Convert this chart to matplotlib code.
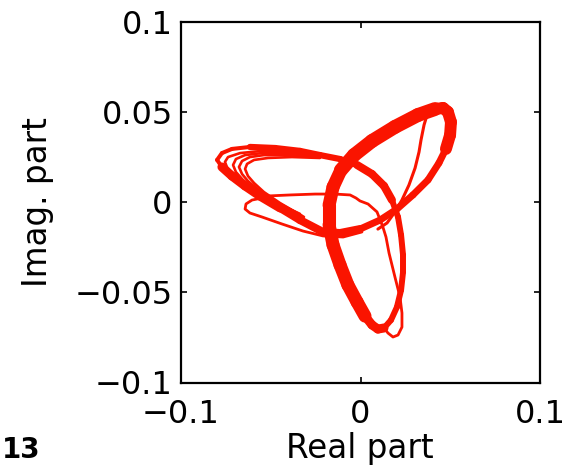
import numpy as np
import matplotlib.pyplot as plt
from matplotlib.collections import LineCollection

RED = "#fa1400"

# ===============================
# Trajectory in the complex plane
# ===============================
# main trefoil cycle (closed)
cycle_re = [-0.0799, -0.0772, -0.0716, -0.0616, -0.0476, -0.0337, -0.0226, -0.0114,
            -0.0019, 0.0064, 0.0131, 0.0175, 0.0209, 0.0226, 0.0237, 0.0237,
            0.0226, 0.0203, 0.0170, 0.0131, 0.0097, 0.0064, 0.0025, -0.0019,
            -0.0070, -0.0114, -0.0153, -0.0175, -0.0175, -0.0153, -0.0109, -0.0036,
            0.0064, 0.0192, 0.0320, 0.0415, 0.0460, 0.0487, 0.0504, 0.0499,
            0.0476, 0.0437, 0.0376, 0.0292, 0.0203, 0.0109, -0.0003, -0.0114,
            -0.0209, -0.0337, -0.0448, -0.0560, -0.0643, -0.0716, -0.0772, -0.0799]
cycle_im = [0.0233, 0.0271, 0.0294, 0.0305, 0.0299, 0.0283, 0.0260, 0.0238,
            0.0205, 0.0155, 0.0089, 0.0011, -0.0083, -0.0183, -0.0294, -0.0388,
            -0.0488, -0.0582, -0.0654, -0.0698, -0.0704, -0.0681, -0.0632, -0.0554,
            -0.0460, -0.0349, -0.0238, -0.0127, -0.0017, 0.0083, 0.0177, 0.0260,
            0.0338, 0.0416, 0.0482, 0.0515, 0.0521, 0.0499, 0.0443, 0.0371,
            0.0294, 0.0216, 0.0122, 0.0039, -0.0039, -0.0100, -0.0150, -0.0172,
            -0.0166, -0.0100, -0.0033, 0.0033, 0.0089, 0.0144, 0.0194, 0.0233]

# inner turns of the left lobe
turn2_re = [-0.0226, -0.0393, -0.0549, -0.0671, -0.0738, -0.0755, -0.0738, -0.0694, -0.0616, -0.0504, -0.0337]
turn2_im = [0.0260, 0.0283, 0.0283, 0.0271, 0.0249, 0.0222, 0.0177, 0.0127, 0.0072, 0.0011, -0.0066]
turn3_re = [-0.0226, -0.0393, -0.0549, -0.0643, -0.0694, -0.0710, -0.0694, -0.0655, -0.0582, -0.0482, -0.0337]
turn3_im = [0.0255, 0.0271, 0.0271, 0.0260, 0.0238, 0.0205, 0.0166, 0.0122, 0.0066, 0.0006, -0.0072]
turn4_re = [-0.0226, -0.0393, -0.0538, -0.0616, -0.0660, -0.0677, -0.0660, -0.0627, -0.0560, -0.0465, -0.0326]
turn4_im = [0.0249, 0.0260, 0.0260, 0.0249, 0.0227, 0.0194, 0.0155, 0.0116, 0.0061, 0.0000, -0.0078]
turn5_re = [-0.0226, -0.0382, -0.0515, -0.0593, -0.0632, -0.0643, -0.0627, -0.0593, -0.0538, -0.0448, -0.0315]
turn5_im = [0.0244, 0.0249, 0.0244, 0.0233, 0.0211, 0.0183, 0.0144, 0.0105, 0.0055, -0.0006, -0.0083]

# transient: across the centre, down the lower lobe, extra turn at its tip
trans_re = [-0.0526, -0.0393, -0.0253, -0.0142, -0.0058, -0.0025, -0.0003, 0.0042,
            0.0092, 0.0125, 0.0142, 0.0159, 0.0192, 0.0220, 0.0231, 0.0231,
            0.0209, 0.0181, 0.0153, 0.0131]
trans_im = [0.0033, 0.0039, 0.0044, 0.0044, 0.0039, 0.0022, 0.0006, -0.0011,
            -0.0055, -0.0139, -0.0194, -0.0283, -0.0416, -0.0526, -0.0615, -0.0693,
            -0.0737, -0.0748, -0.0726, -0.0698]

# single pass inside the upper-right lobe
inner_re = [0.0376, 0.0354, 0.0337, 0.0326, 0.0304, 0.0270, 0.0231, 0.0192, 0.0148, 0.0097]
inner_im = [0.0499, 0.0427, 0.0343, 0.0277, 0.0188, 0.0094, 0.0011, -0.0055, -0.0116, -0.0150]

# outer pass below the left lobe
outer_re = [-0.0549, -0.0604, -0.0638, -0.0643, -0.0616, -0.0549, -0.0437, -0.0320, -0.0209, -0.0097, 0.0008]
outer_im = [0.0022, 0.0011, -0.0011, -0.0039, -0.0061, -0.0083, -0.0122, -0.0161, -0.0188, -0.0194, -0.0166]

x_ticks = [-0.1, 0, 0.1]
x_tick_labels = ["\u22120.1", "0", "0.1"]
y_ticks = [-0.1, -0.05, 0, 0.05, 0.1]
y_tick_labels = ["\u22120.1", "\u22120.05", "0", "0.05", "0.1"]

# stroke width (pt) along the main cycle: bundled passes look thicker
runs = [(3, 2.9), (5, 4.5), (3, 5.8), (8, 4.3), (3, 6.5), (8, 9.4),
        (5, 10.0), (5, 8.6), (6, 5.0), (4, 5.8), (4, 6.5), (1, 2.9)]
cycle_lw = np.concatenate([np.full(n, w) for n, w in runs])

plt.rcParams["font.family"] = "DejaVu Sans"

fig = plt.figure(figsize=(5.67, 4.75), dpi=100)
ax = fig.add_axes([181 / 567, 1 - 382.5 / 475, 359 / 567, 361 / 475])

pts = np.column_stack([cycle_re, cycle_im])
segs = np.stack([pts[:-1], pts[1:]], axis=1)
lc = LineCollection(segs, colors=RED, linewidths=cycle_lw, capstyle="round", joinstyle="round")
ax.add_collection(lc)

for re, im in [(turn2_re, turn2_im), (turn3_re, turn3_im),
               (turn4_re, turn4_im), (turn5_re, turn5_im)]:
    ax.plot(re, im, color=RED, lw=1.9, solid_capstyle="round")

ax.plot(trans_re, trans_im, color=RED, lw=2.0, solid_capstyle="round")
ax.plot(inner_re, inner_im, color=RED, lw=2.2, solid_capstyle="round")
ax.plot(outer_re, outer_im, color=RED, lw=2.0, solid_capstyle="round")

ax.set_xlim(-0.1, 0.1)
ax.set_ylim(-0.1, 0.1)
ax.set_xticks(x_ticks)
ax.set_xticklabels(x_tick_labels)
ax.set_yticks(y_ticks)
ax.set_yticklabels(y_tick_labels)
ax.tick_params(direction="in", length=4, width=1.2, top=True, right=True, labelsize=23)
ax.tick_params(axis="x", pad=12)
ax.tick_params(axis="y", pad=6)
for sp in ax.spines.values():
    sp.set_linewidth(1.6)

fig.text(360 / 567, 1 - 458 / 475, "Real part", fontsize=23.5, ha="center", va="baseline")
fig.text(38 / 567, 1 - 202 / 475, "Imag. part", fontsize=23.5, rotation=90, ha="center", va="center")
fig.text(2 / 567, 1 - 458 / 475, "13", fontsize=20, fontweight="bold", va="baseline")

fig.savefig("out.png", dpi=100)
